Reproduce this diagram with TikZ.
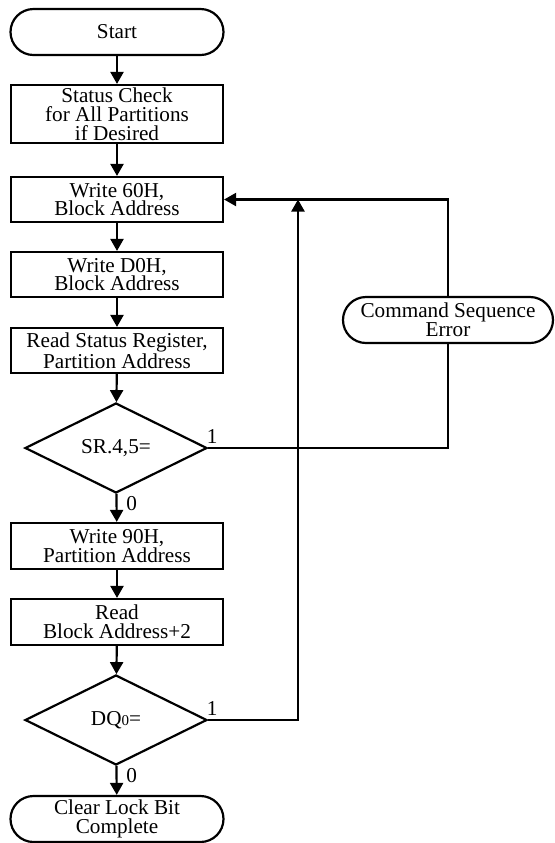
\documentclass[tikz,border=0pt]{standalone}
\usepackage{fontspec}
\setmainfont{Liberation Serif}
\newfontfamily\tmsfont{Liberation Serif}
\usetikzlibrary{shapes.geometric,arrows.meta}
\begin{document}
\begin{tikzpicture}[x=0.5pt,y=-0.5pt,
  txt/.style={font=\tmsfont\fontsize{10.6}{9.4}\selectfont},
  box/.style={txt,draw,line width=1.1pt,minimum width=106pt,minimum height=22.5pt,inner sep=0pt,align=center},
  term/.style={box,rounded corners=11.5pt,minimum width=106.5pt,minimum height=23pt},
  dec/.style={txt,draw,diamond,line width=1.1pt,minimum width=91pt,minimum height=45pt,inner sep=0pt},
  flow/.style={line width=1.1pt,-{Triangle[length=6pt,width=6.5pt]}},
  plain/.style={line width=1.1pt},
  lbl/.style={txt,inner sep=0pt}]
\useasboundingbox (0,0) rectangle (554,843);
\node[term] (start) at (117,32) {Start};
\node[box,minimum height=29pt] (status) at (117,114) {Status Check\\for All Partitions\\if Desired};
\node[box] (w60) at (117,199.5) {Write 60H,\\Block Address};
\node[box] (wd0) at (117,274.5) {Write D0H,\\Block Address};
\node[box] (rsr) at (117,350.5) {Read Status Register,\\Partition Address};
\node[dec] (d1) at (116,448) {SR.4,5=};
\node[box,minimum height=23pt] (w90) at (117,546) {Write 90H,\\Partition Address};
\node[box,minimum height=23pt] (rba) at (117,622) {Read\\Block Address+2};
\node[dec] (d2) at (116,720) {DQ{\fontsize{7.5}{8}\selectfont 0}=};
\node[term] (clear) at (117,819) {Clear Lock Bit\\Complete};
\node[term,minimum width=105pt] (cse) at (448,320) {Command Sequence\\Error};
\coordinate (j) at (298,199.5);

\draw[flow] (start) -- (status);
\draw[flow] (status) -- (w60);
\draw[flow] (w60) -- (wd0);
\draw[flow] (wd0) -- (rsr);
\draw[flow] (rsr) -- (d1);
\draw[flow] (d1) -- (w90);
\draw[flow] (w90) -- (rba);
\draw[flow] (rba) -- (d2);
\draw[flow] (d2) -- (clear);
\draw[plain] (d1.east) -| (cse.south);
\draw[flow] (cse.north) |- (w60.east);
\draw[flow] (d2.east) -| (j);

\node[lbl,anchor=south] at ([xshift=2pt,yshift=2pt]d1.east) {1};
\node[lbl,anchor=north west] at ([xshift=5pt,yshift=-1pt]d1.south) {0};
\node[lbl,anchor=south] at ([xshift=2pt,yshift=2pt]d2.east) {1};
\node[lbl,anchor=north west] at ([xshift=5pt,yshift=-1pt]d2.south) {0};
\end{tikzpicture}
\end{document}
